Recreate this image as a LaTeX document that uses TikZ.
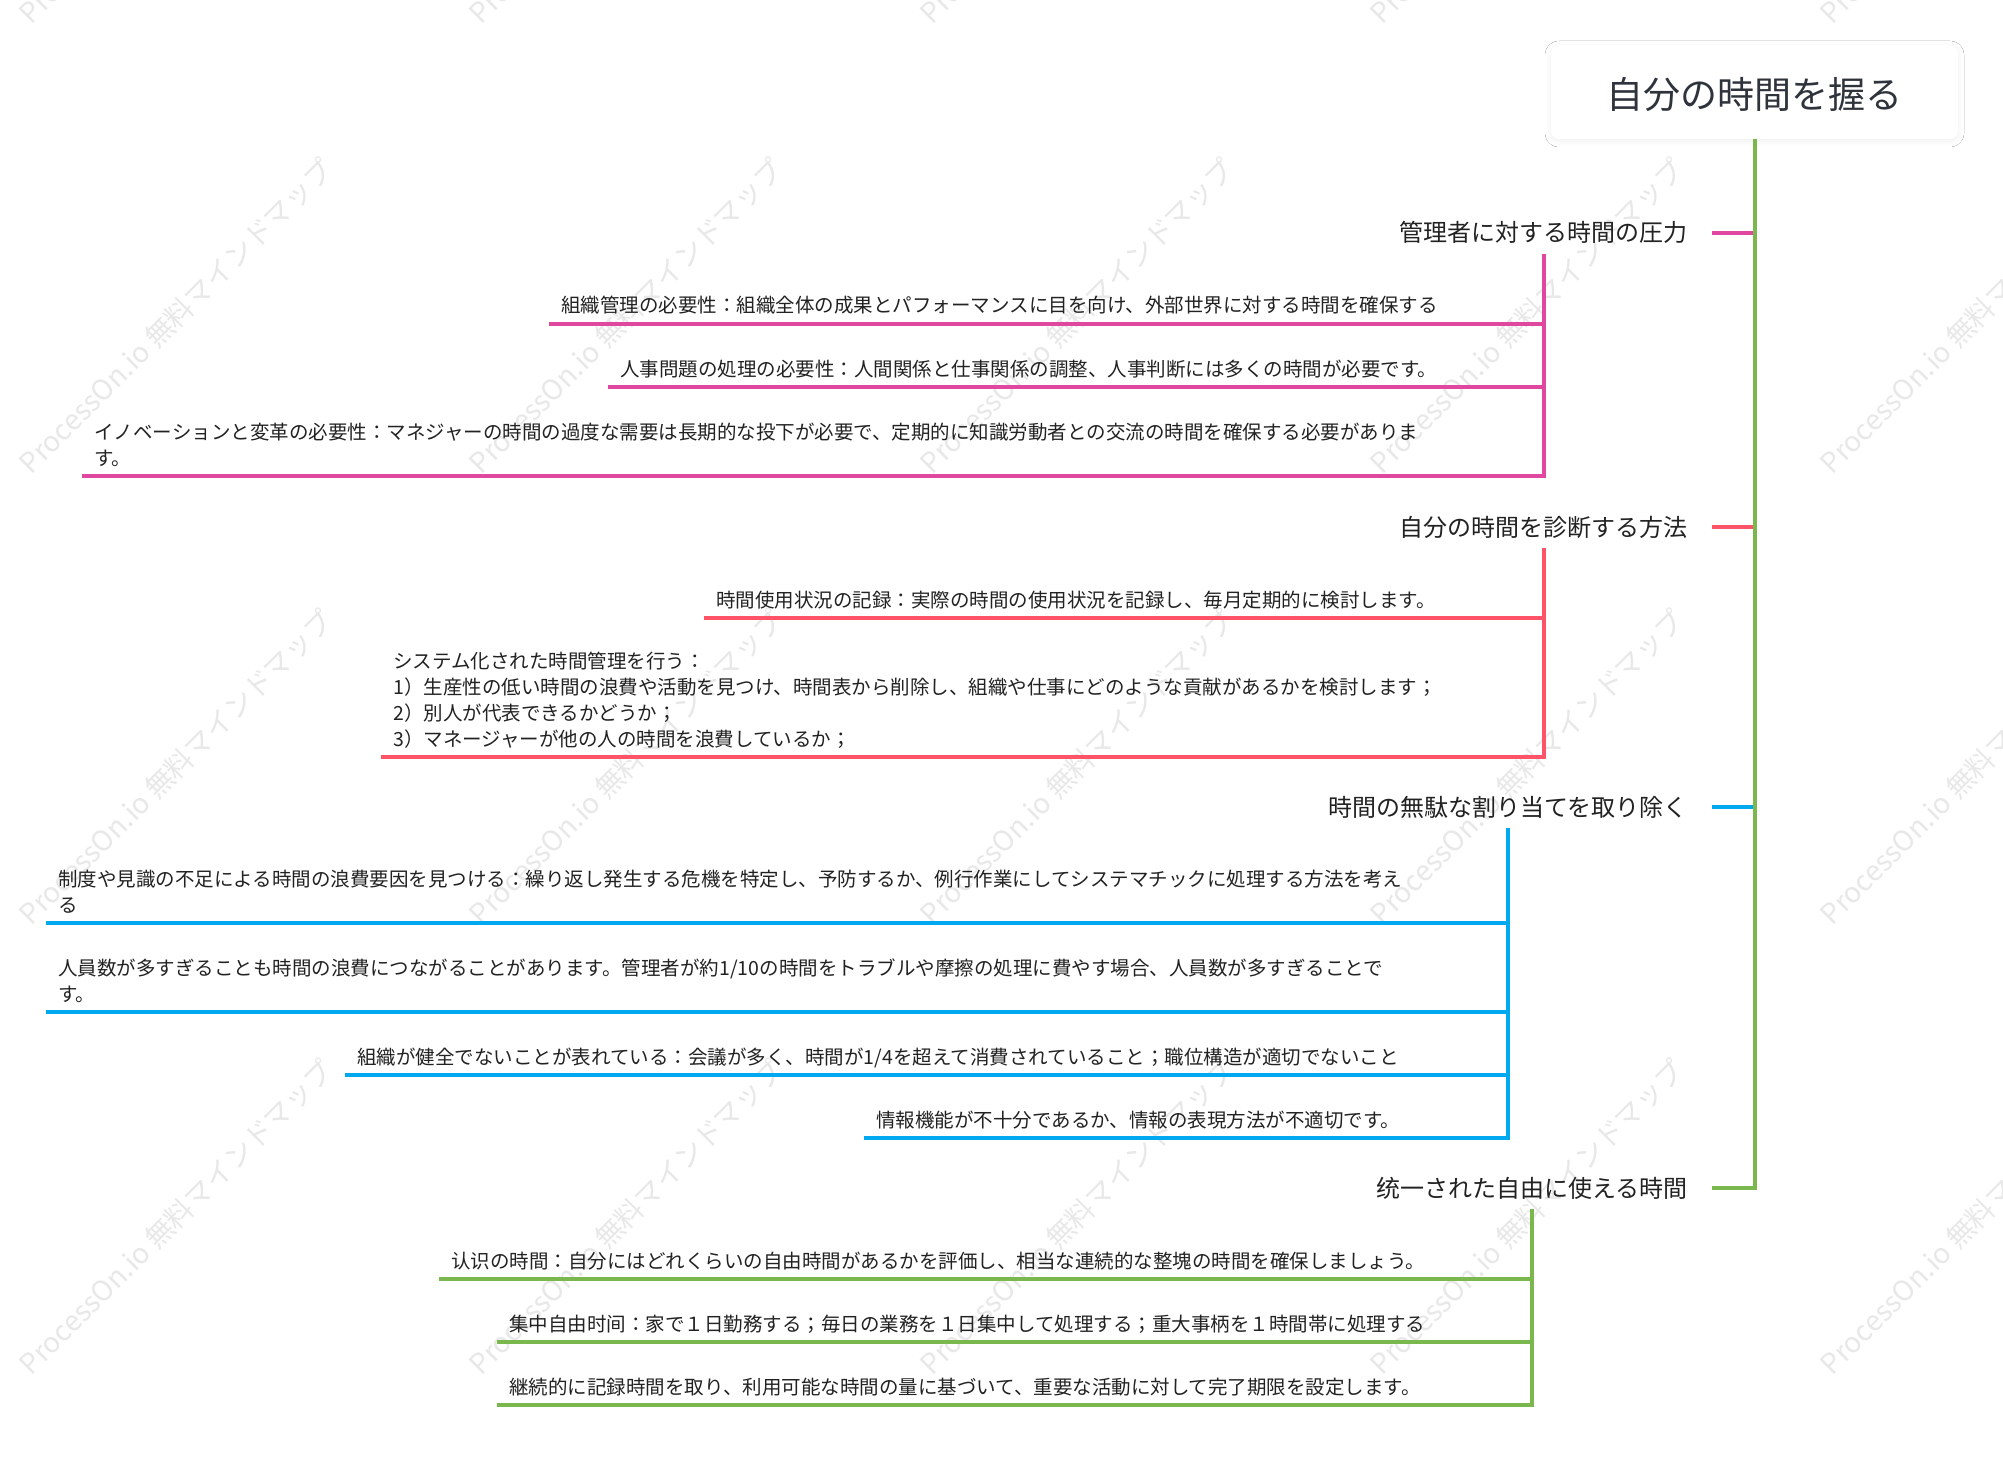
\documentclass[tikz,border=0pt]{standalone}
\usepackage{fontspec}
\newfontfamily\jpfont{Noto Sans CJK JP}
\usetikzlibrary{shadows.blur}
\definecolor{pinkline}{HTML}{E0479E}
\definecolor{redline}{HTML}{FF5468}
\definecolor{blueline}{HTML}{00A8F0}
\definecolor{greenline}{HTML}{7AB84E}
\definecolor{inkdark}{HTML}{222222}
\definecolor{titleink}{HTML}{2F333B}
\begin{document}
\begin{tikzpicture}[x=0.5pt,y=-0.5pt,
  rootbox/.style={fill=white,rounded corners=4pt,minimum width=203.5pt,minimum height=47pt,
    font=\jpfont\fontsize{18.5}{22}\selectfont,text=titleink,text height=17.6pt,text depth=0.6pt,
    blur shadow={shadow xshift=0pt,shadow yshift=-1pt,shadow blur radius=3pt,shadow opacity=6}},
  topic/.style={anchor=east,font=\jpfont\fontsize{12}{14}\selectfont,text=inkdark,
    inner xsep=12pt,inner ysep=5pt,text height=10pt,text depth=1pt},
  kid/.style={anchor=south west,font=\jpfont\fontsize{9.75}{13}\selectfont,text=inkdark,
    align=left,inner xsep=6pt,inner ysep=1.4pt,execute at end node=\strut},
  wmark/.style={font=\jpfont\fontsize{14}{16}\selectfont,text=black!9,rotate=45},
  twig/.style={line width=2pt}]
\fill[white] (0,0) rectangle (2003,1466);
\useasboundingbox (0,0) rectangle (2003,1466);
% watermarks
\node[wmark] (wm-a1) at (176,-134) {ProcessOn.io 無料マインドマップ};
\node[wmark] (wm-a2) at (626,-134) {ProcessOn.io 無料マインドマップ};
\node[wmark] (wm-a3) at (1077,-134) {ProcessOn.io 無料マインドマップ};
\node[wmark] (wm-a4) at (1527,-134) {ProcessOn.io 無料マインドマップ};
\node[wmark] (wm-a5) at (1977,-134) {ProcessOn.io 無料マインドマップ};
\node[wmark] (wm-b1) at (176,316) {ProcessOn.io 無料マインドマップ};
\node[wmark] (wm-b2) at (626,316) {ProcessOn.io 無料マインドマップ};
\node[wmark] (wm-b3) at (1077,316) {ProcessOn.io 無料マインドマップ};
\node[wmark] (wm-b4) at (1527,316) {ProcessOn.io 無料マインドマップ};
\node[wmark] (wm-b5) at (1977,316) {ProcessOn.io 無料マインドマップ};
\node[wmark] (wm-c1) at (176,767) {ProcessOn.io 無料マインドマップ};
\node[wmark] (wm-c2) at (626,767) {ProcessOn.io 無料マインドマップ};
\node[wmark] (wm-c3) at (1077,767) {ProcessOn.io 無料マインドマップ};
\node[wmark] (wm-c4) at (1527,767) {ProcessOn.io 無料マインドマップ};
\node[wmark] (wm-c5) at (1977,767) {ProcessOn.io 無料マインドマップ};
\node[wmark] (wm-d1) at (176,1217) {ProcessOn.io 無料マインドマップ};
\node[wmark] (wm-d2) at (626,1217) {ProcessOn.io 無料マインドマップ};
\node[wmark] (wm-d3) at (1077,1217) {ProcessOn.io 無料マインドマップ};
\node[wmark] (wm-d4) at (1527,1217) {ProcessOn.io 無料マインドマップ};
\node[wmark] (wm-d5) at (1977,1217) {ProcessOn.io 無料マインドマップ};
% root and main topics
\node[rootbox] (root) at (1754.5,92) {自分の時間を握る};
\node[topic] (press) at (1712,233) {管理者に対する時間の圧力};
\node[topic] (diag) at (1712,527) {自分の時間を診断する方法};
\node[topic] (waste) at (1712,807) {時間の無駄な割り当てを取り除く};
\node[topic] (free) at (1712,1188) {统一された自由に使える時間};
% subtopics
\node[kid] (press1) at (549,324) {組織管理の必要性：組織全体の成果とパフォーマンスに目を向け、外部世界に対する時間を確保する};
\node[kid] (press2) at (608,387) {人事問題の処理の必要性：人間関係と仕事関係の調整、人事判断には多くの時間が必要です。};
\node[kid] (press3) at (82,476) {イノベーションと変革の必要性：マネジャーの時間の過度な需要は長期的な投下が必要で、定期的に知識労動者との交流の時間を確保する必要がありま\\す。};
\node[kid] (diag1) at (704,618) {時間使用状況の記録：実際の時間の使用状況を記録し、毎月定期的に検討します。};
\node[kid] (diag2) at (381,757) {システム化された時間管理を行う：\\1）生産性の低い時間の浪費や活動を見つけ、時間表から削除し、組織や仕事にどのような貢献があるかを検討します；\\2）別人が代表できるかどうか；\\3）マネージャーが他の人の時間を浪費しているか；};
\node[kid] (waste1) at (46,923) {制度や見識の不足による時間の浪費要因を見つける：繰り返し発生する危機を特定し、予防するか、例行作業にしてシステマチックに処理する方法を考え\\る};
\node[kid] (waste2) at (46,1012) {人員数が多すぎることも時間の浪費につながることがあります。管理者が約1/10の時間をトラブルや摩擦の処理に費やす場合、人員数が多すぎることで\\す。};
\node[kid] (waste3) at (345,1075) {組織が健全でないことが表れている：会議が多く、時間が1/4を超えて消費されていること；職位構造が適切でないこと};
\node[kid] (waste4) at (864,1138) {情報機能が不十分であるか、情報の表現方法が不適切です。};
\node[kid] (free1) at (439,1279) {认识の時間：自分にはどれくらいの自由時間があるかを評価し、相当な連続的な整塊の時間を確保しましょう。};
\node[kid] (free2) at (497,1342) {集中自由时间：家で１日勤務する；毎日の業務を１日集中して処理する；重大事柄を１時間帯に処理する};
\node[kid] (free3) at (497,1405) {継続的に記録時間を取り、利用可能な時間の量に基づいて、重要な活動に対して完了期限を設定します。};
% connectors
\draw[twig,pinkline] (press.east) -- (press.east -| root.south);
\draw[twig,redline] (diag.east) -- (diag.east -| root.south);
\draw[twig,blueline] (waste.east) -- (waste.east -| root.south);
\draw[twig,greenline] (root.south) |- (free.east);
\draw[twig,pinkline] (press1.south west) -- (press1.south west -| press.south);
\draw[twig,pinkline] (press2.south west) -- (press2.south west -| press.south);
\draw[twig,pinkline] (press.south) |- (press3.south west);
\draw[twig,redline] (diag1.south west) -- (diag1.south west -| diag.south);
\draw[twig,redline] (diag.south) |- (diag2.south west);
\draw[twig,blueline] (waste1.south west) -- (waste1.south west -| waste.south);
\draw[twig,blueline] (waste2.south west) -- (waste2.south west -| waste.south);
\draw[twig,blueline] (waste3.south west) -- (waste3.south west -| waste.south);
\draw[twig,blueline] (waste.south) |- (waste4.south west);
\draw[twig,greenline] (free1.south west) -- (free1.south west -| free.south);
\draw[twig,greenline] (free2.south west) -- (free2.south west -| free.south);
\draw[twig,greenline] (free.south) |- (free3.south west);
\end{tikzpicture}
\end{document}
